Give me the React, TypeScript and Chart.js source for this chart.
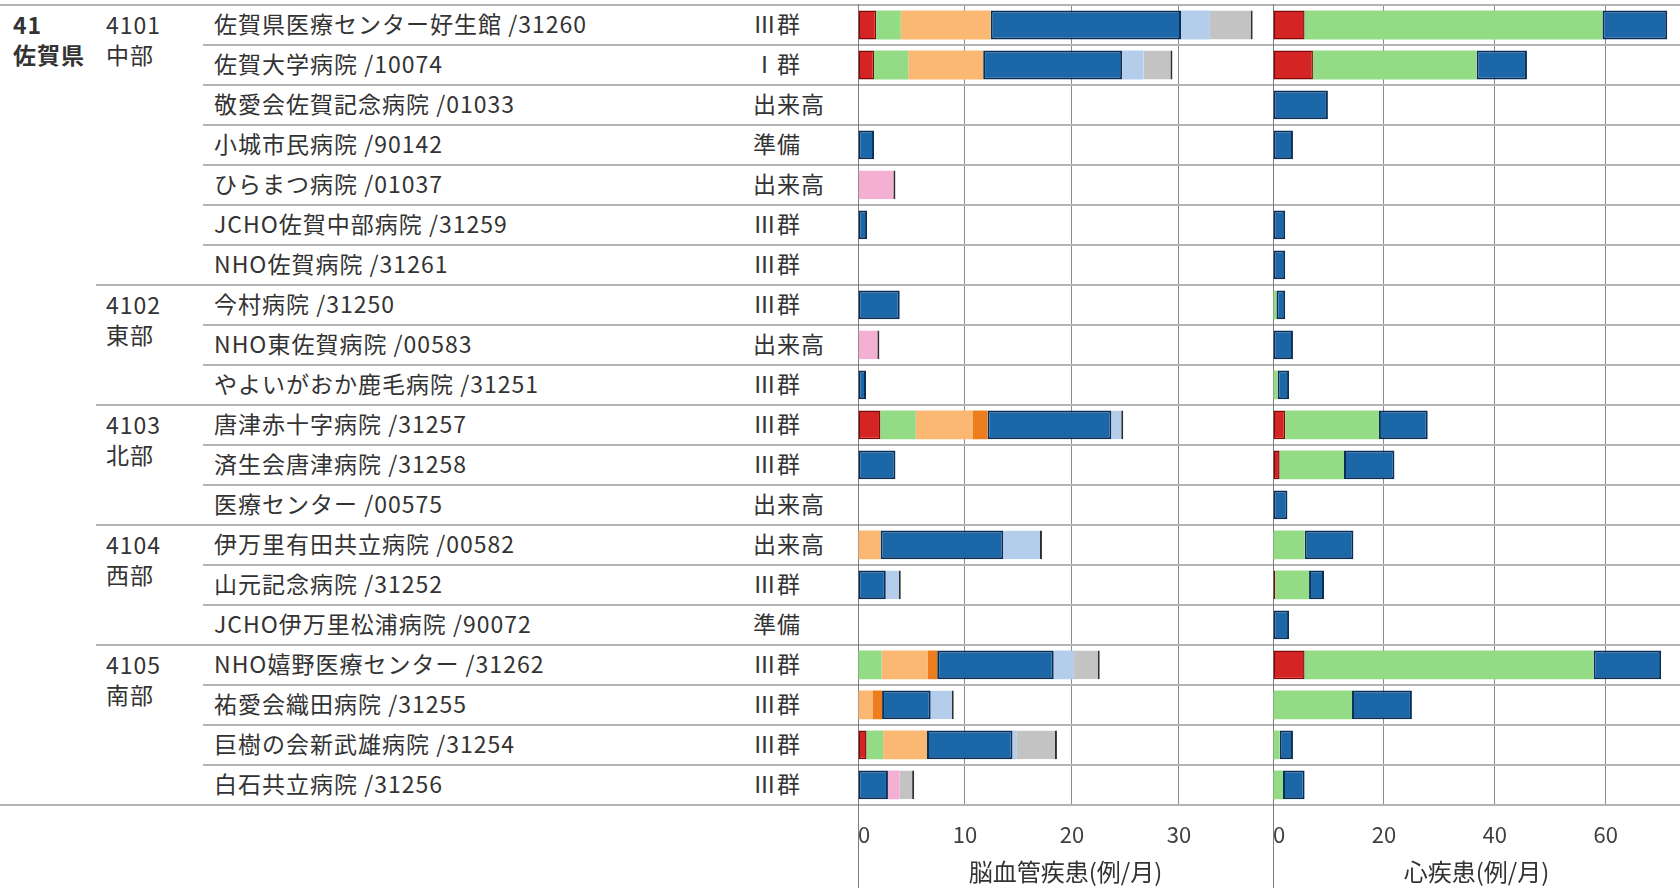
import React, { useEffect, useRef } from 'react';
import { Chart, registerables } from 'chart.js';

Chart.register(...registerables);

// ---------- data ----------
const prefCode = '41';
const prefName = '佐賀県';

const regionCodes = ['4101', '4102', '4103', '4104', '4105'];
const regionNames = ['中部', '東部', '北部', '西部', '南部'];
const regionStarts = [0, 7, 10, 13, 16];

const hospitals = [
  '佐賀県医療センター好生館 /31260',
  '佐賀大学病院 /10074',
  '敬愛会佐賀記念病院 /01033',
  '小城市民病院 /90142',
  'ひらまつ病院 /01037',
  'JCHO佐賀中部病院 /31259',
  'NHO佐賀病院 /31261',
  '今村病院 /31250',
  'NHO東佐賀病院 /00583',
  'やよいがおか鹿毛病院 /31251',
  '唐津赤十字病院 /31257',
  '済生会唐津病院 /31258',
  '医療センター /00575',
  '伊万里有田共立病院 /00582',
  '山元記念病院 /31252',
  'JCHO伊万里松浦病院 /90072',
  'NHO嬉野医療センター /31262',
  '祐愛会織田病院 /31255',
  '巨樹の会新武雄病院 /31254',
  '白石共立病院 /31256',
];

const groups = [
  'Ⅲ群', 'Ⅰ群', '出来高', '準備', '出来高', 'Ⅲ群', 'Ⅲ群',
  'Ⅲ群', '出来高', 'Ⅲ群',
  'Ⅲ群', 'Ⅲ群', '出来高',
  '出来高', 'Ⅲ群', '準備',
  'Ⅲ群', 'Ⅲ群', 'Ⅲ群', 'Ⅲ群',
];

// 脳血管疾患(例/月)
const cvTitle = '脳血管疾患(例/月)';
const cvMax = 38.8;
const cvTicks = [0, 10, 20, 30];
const cvRed =       [1.7, 1.5, 0, 0, 0, 0, 0, 0, 0, 0, 2.1, 0, 0, 0, 0, 0, 0, 0, 0.8, 0];
const cvGreen =     [2.3, 3.2, 0, 0, 0, 0, 0, 0, 0, 0, 3.3, 0, 0, 0, 0, 0, 2.2, 0, 1.55, 0];
const cvOrange =    [8.4, 7.0, 0, 0, 0, 0, 0, 0, 0, 0, 5.3, 0, 0, 2.1, 0, 0, 4.3, 1.35, 4.1, 0];
const cvDarkOrange =[0, 0, 0, 0, 0, 0, 0, 0, 0, 0, 1.4, 0, 0, 0, 0, 0, 0.9, 0.9, 0, 0];
const cvBlue =      [17.8, 13.0, 0, 1.5, 0, 0.85, 0, 3.9, 0, 0.75, 11.6, 3.5, 0, 11.5, 2.6, 0, 10.9, 4.55, 8.0, 2.8];
const cvLightBlue = [2.7, 2.0, 0, 0, 0, 0, 0, 0, 0, 0, 1.1, 0, 0, 3.6, 1.4, 0, 1.9, 2.15, 0.4, 0];
const cvPink =      [0, 0, 0, 0, 3.5, 0, 0, 0, 2.0, 0, 0, 0, 0, 0, 0, 0, 0, 0, 0, 1.1];
const cvGrey =      [4.0, 2.7, 0, 0, 0, 0, 0, 0, 0, 0, 0, 0, 0, 0, 0, 0, 2.4, 0, 3.75, 1.35];

// 心疾患(例/月)
const hdTitle = '心疾患(例/月)';
const hdMax = 73.4;
const hdTicks = [0, 20, 40, 60];
const hdRed =   [5.7, 7.2, 0, 0, 0, 0, 0, 0, 0, 0, 2.2, 1.2, 0, 0, 0.4, 0, 5.7, 0, 0, 0];
const hdGreen = [53.7, 29.5, 0, 0, 0, 0, 0, 0.6, 0, 0.8, 16.9, 11.6, 0, 5.7, 6.1, 0, 52.1, 14.25, 1.2, 1.8];
const hdBlue =  [11.7, 9.1, 9.9, 3.6, 0, 2.2, 2.2, 1.6, 3.6, 2.1, 8.8, 9.1, 2.6, 8.8, 2.7, 2.9, 12.2, 10.8, 2.4, 3.9];

// ---------- style ----------
const FONT = "'Noto Sans CJK JP', 'Noto Sans', sans-serif";
const ROW_TOP = 5;
const ROW_H = 40;
const PAGE_W = 1680;
const PAGE_H = 888;
const TABLE_RIGHT = 858;
const HLINE = '#b4b4b4';
const VLINE = '#8c8c8c';

const RED = '#d42424';
const RED_EDGE = '#7a0b0b';
const GREEN = '#93dc85';
const ORANGE = '#fbb872';
const DARK_ORANGE = '#ee7d1e';
const BLUE = '#1c67a8';
const BLUE_EDGE = '#0a2f57';
const LIGHT_BLUE = '#b3cdeb';
const PINK = '#f4b0d2';
const GREY = '#c3c3c3';

Chart.defaults.font.family = FONT;

const endEdge = (ctx: any) => {
  const ds = ctx.chart.data.datasets;
  const i = ctx.dataIndex;
  for (let k = ds.length - 1; k >= 0; k--) {
    if ((ds[k].data[i] as number) > 0) {
      return k === ctx.datasetIndex ? { left: 0, top: 0, bottom: 0, right: 2 } : 0;
    }
  }
  return 0;
};

const solid = (label: string, data: number[], bg: string, edge?: string, bw = 0) => ({
  label,
  data,
  backgroundColor: bg,
  borderColor: edge || bg,
  borderWidth: bw,
  borderSkipped: false as const,
});

const light = (label: string, data: number[], bg: string) => ({
  label,
  data,
  backgroundColor: bg,
  borderColor: '#2e2e2e',
  borderWidth: endEdge,
  borderSkipped: false as const,
});

const axisLinePlugin = {
  id: 'axisLine',
  beforeDatasetsDraw(chart: any) {
    const { ctx, chartArea } = chart;
    const x = Math.round(chart.scales.x.getPixelForValue(0)) + 0.5;
    ctx.save();
    ctx.strokeStyle = '#7c7c7c';
    ctx.lineWidth = 1;
    ctx.beginPath();
    ctx.moveTo(x, chartArea.top - 1);
    ctx.lineTo(x, chart.height);
    ctx.stroke();
    ctx.restore();
  },
};

function makeChart(
  canvas: HTMLCanvasElement,
  datasets: any[],
  max: number,
  tickValues: number[],
  title: string,
  padLeft: number
) {
  const isTick = (v: number) => tickValues.indexOf(v) >= 0;
  return new Chart(canvas, {
    type: 'bar',
    data: { labels: hospitals, datasets },
    options: {
      indexAxis: 'y',
      responsive: false,
      animation: false,
      layout: { padding: { left: padLeft, right: 0, top: ROW_TOP, bottom: 0 } },
      plugins: { legend: { display: false }, tooltip: { enabled: false } },
      datasets: { bar: { barPercentage: 0.72, categoryPercentage: 1 } },
      scales: {
        x: {
          type: 'linear',
          stacked: true,
          min: 0,
          max,
          afterBuildTicks: (axis: any) => {
            axis.ticks = tickValues.map((v) => ({ value: v })).concat([{ value: max }]);
          },
          border: { display: false },
          grid: {
            drawTicks: true,
            tickLength: 17,
            tickColor: 'rgba(0,0,0,0)',
            lineWidth: 1,
            color: (c: any) => (c.tick && isTick(c.tick.value) ? VLINE : 'rgba(0,0,0,0)'),
          },
          ticks: {
            align: 'inner',
            padding: 0,
            autoSkip: false,
            maxRotation: 0,
            minRotation: 0,
            color: '#404040',
            font: { size: 22 },
            callback: (v: any) => (isTick(Number(v)) ? String(v) : ''),
          },
          title: {
            display: true,
            text: title,
            color: '#333333',
            font: { size: 24 },
            padding: { top: 9, bottom: 2 },
          },
        },
        y: {
          stacked: true,
          grid: { offset: true, drawTicks: false, color: HLINE, lineWidth: 2 },
          ticks: { display: false },
          border: { display: false },
        },
      },
    } as any,
    plugins: [axisLinePlugin],
  });
}

function ChartCanvas(props: { left: number; width: number; build: (c: HTMLCanvasElement) => Chart }) {
  const ref = useRef<HTMLCanvasElement | null>(null);
  useEffect(() => {
    if (!ref.current) return;
    const chart = props.build(ref.current);
    return () => chart.destroy();
  }, []);
  return (
    <canvas
      ref={ref}
      width={props.width}
      height={PAGE_H}
      style={{ position: 'absolute', left: props.left, top: 0, width: props.width, height: PAGE_H }}
    />
  );
}

export default function App() {
  const lines = [];
  for (let k = 0; k <= hospitals.length; k++) {
    const x0 = k === 0 || k === hospitals.length ? 0 : regionStarts.includes(k) ? 96 : 203;
    lines.push(
      <div
        key={'l' + k}
        style={{
          position: 'absolute',
          left: x0,
          top: ROW_TOP + k * ROW_H - 1,
          width: TABLE_RIGHT - x0,
          height: 2,
          background: HLINE,
        }}
      />
    );
  }

  const textBase: React.CSSProperties = {
    position: 'absolute',
    fontSize: 23,
    letterSpacing: 1,
    whiteSpace: 'nowrap',
    color: '#333333',
  };

  return (
    <div
      style={{
        position: 'absolute',
        left: 0,
        top: 0,
        width: PAGE_W,
        height: PAGE_H,
        background: '#ffffff',
        overflow: 'hidden',
        fontFamily: FONT,
      }}
    >
      {lines}
      <div style={{ ...textBase, left: 13, top: ROW_TOP + 4, lineHeight: '30px', fontWeight: 700 }}>
        {prefCode}
        <br />
        {prefName}
      </div>
      {regionCodes.map((code, r) => (
        <div
          key={'r' + r}
          style={{ ...textBase, left: 106, top: ROW_TOP + regionStarts[r] * ROW_H + 4, lineHeight: '30px' }}
        >
          {code}
          <br />
          {regionNames[r]}
        </div>
      ))}
      {hospitals.map((h, i) => (
        <div
          key={'h' + i}
          style={{ ...textBase, left: 214, top: ROW_TOP + i * ROW_H, height: ROW_H, lineHeight: ROW_H - 3 + 'px' }}
        >
          {h}
        </div>
      ))}
      {groups.map((g, i) => (
        <div
          key={'g' + i}
          style={{ ...textBase, left: 753, top: ROW_TOP + i * ROW_H, height: ROW_H, lineHeight: ROW_H - 3 + 'px' }}
        >
          {g}
        </div>
      ))}
      <ChartCanvas
        left={800}
        width={473}
        build={(c) =>
          makeChart(
            c,
            [
              solid('赤', cvRed, RED, RED_EDGE, 1.5),
              solid('緑', cvGreen, GREEN),
              solid('橙', cvOrange, ORANGE),
              solid('濃橙', cvDarkOrange, DARK_ORANGE),
              solid('青', cvBlue, BLUE, BLUE_EDGE, 2),
              light('水色', cvLightBlue, LIGHT_BLUE),
              light('桃', cvPink, PINK),
              light('灰', cvGrey, GREY),
            ],
            cvMax,
            cvTicks,
            cvTitle,
            58
          )
        }
      />
      <ChartCanvas
        left={1263}
        width={417}
        build={(c) =>
          makeChart(
            c,
            [
              solid('赤', hdRed, RED, RED_EDGE, 1.5),
              solid('緑', hdGreen, GREEN),
              solid('青', hdBlue, BLUE, BLUE_EDGE, 2),
            ],
            hdMax,
            hdTicks,
            hdTitle,
            10
          )
        }
      />
    </div>
  );
}
